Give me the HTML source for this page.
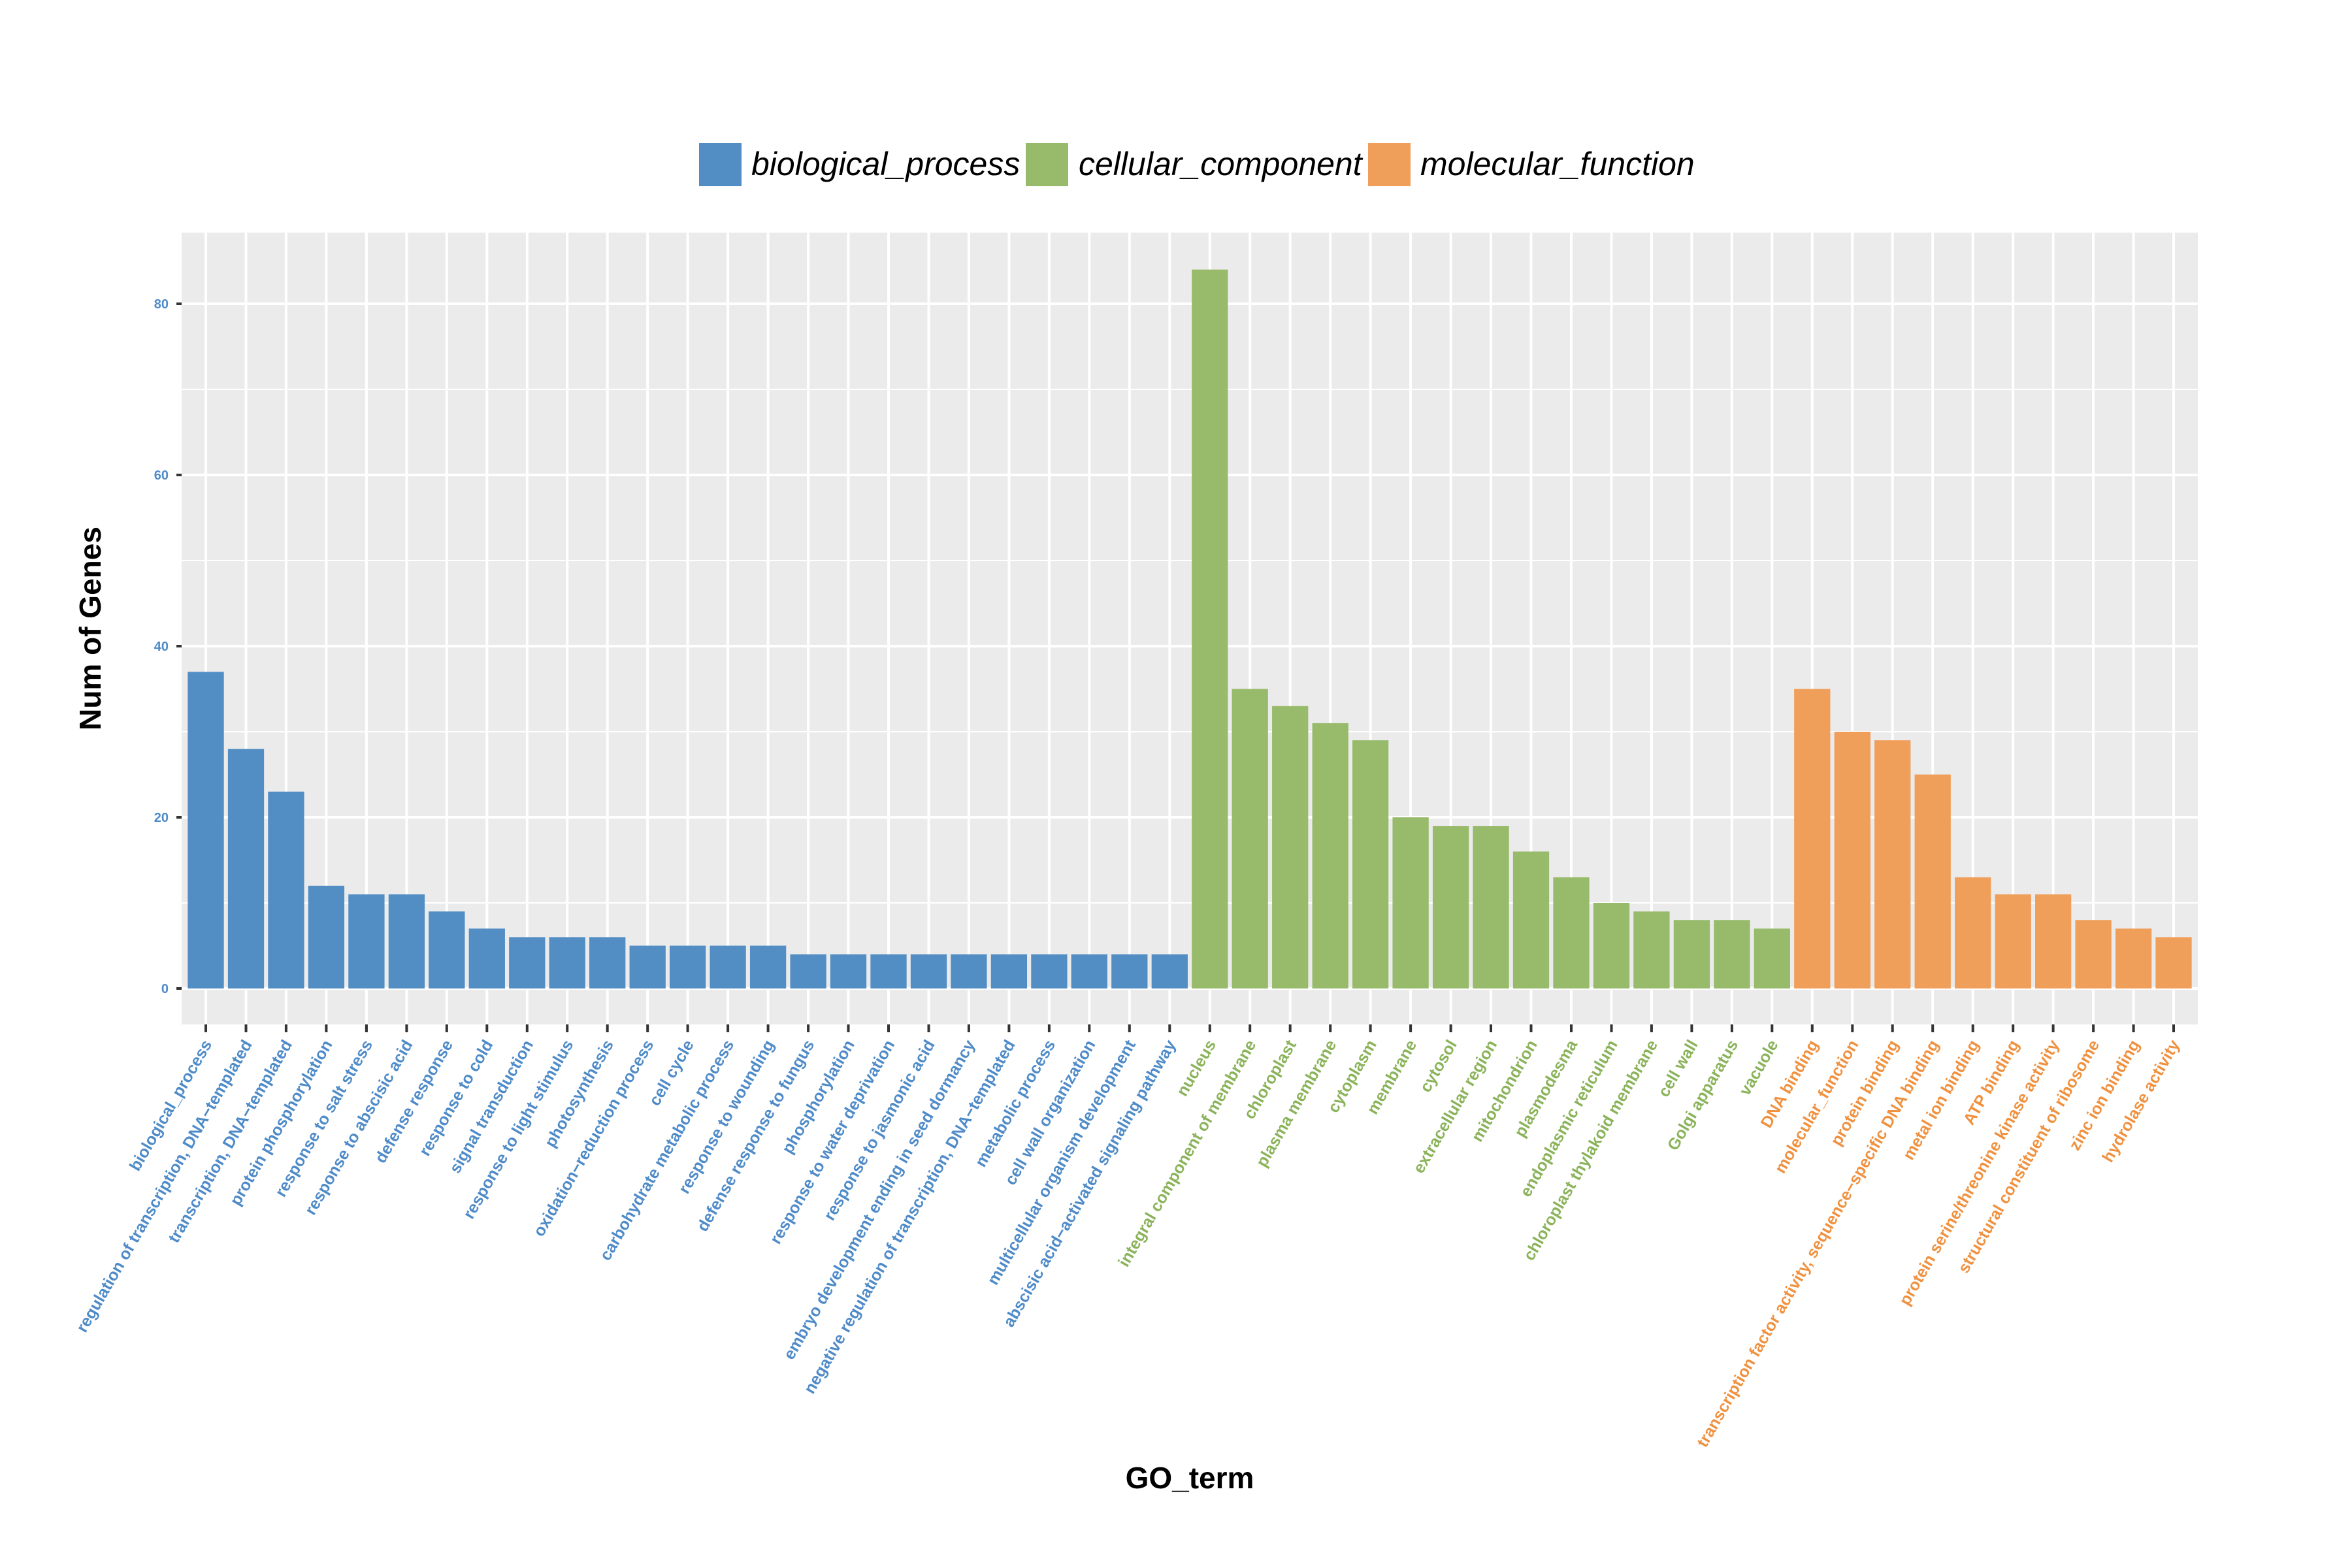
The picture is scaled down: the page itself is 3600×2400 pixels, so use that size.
<!DOCTYPE html>
<html><head><meta charset="utf-8"><style>
html,body{margin:0;padding:0;background:#fff}
svg{display:block}
text{font-family:"Liberation Sans",sans-serif}
.b{fill:#528ec4}.g{fill:#98bb6b}.o{fill:#f09f5b}
.lb text{font-size:25px;font-weight:bold;text-anchor:end}
.tb{fill:#4f8bc8}.tg{fill:#8ab35a}.to{fill:#f0913f}
</style></head><body>
<svg width="3600" height="2400" viewBox="0 0 3600 2400" xmlns="http://www.w3.org/2000/svg">
<rect width="3600" height="2400" fill="#fff"/>
<rect x="1070" y="219" width="65" height="66" fill="#528ec4"/>
<text x="1150" y="268" font-size="50" font-style="italic">biological_process</text>
<rect x="1570" y="219" width="65" height="66" fill="#98bb6b"/>
<text x="1651" y="268" font-size="50" font-style="italic">cellular_component</text>
<rect x="2094" y="219" width="65" height="66" fill="#f09f5b"/>
<text x="2174" y="268" font-size="50" font-style="italic">molecular_function</text>
<rect x="278" y="356" width="3086" height="1212" fill="#ebebeb"/>
<g stroke="#fff" stroke-width="2">
<path d="M278 1382H3364M278 1120H3364M278 858H3364M278 596H3364"/>
</g>
<g stroke="#fff" stroke-width="4">
<path d="M278 1513H3364M278 1251H3364M278 989H3364M278 727H3364M278 465H3364"/>
<path d="M315.0 356V1568M376.5 356V1568M437.9 356V1568M499.4 356V1568M560.9 356V1568M622.4 356V1568M683.8 356V1568M745.3 356V1568M806.8 356V1568M868.2 356V1568M929.7 356V1568M991.2 356V1568M1052.6 356V1568M1114.1 356V1568M1175.6 356V1568M1237.1 356V1568M1298.5 356V1568M1360.0 356V1568M1421.5 356V1568M1482.9 356V1568M1544.4 356V1568M1605.9 356V1568M1667.3 356V1568M1728.8 356V1568M1790.3 356V1568M1851.8 356V1568M1913.2 356V1568M1974.7 356V1568M2036.2 356V1568M2097.6 356V1568M2159.1 356V1568M2220.6 356V1568M2282.0 356V1568M2343.5 356V1568M2405.0 356V1568M2466.5 356V1568M2527.9 356V1568M2589.4 356V1568M2650.9 356V1568M2712.3 356V1568M2773.8 356V1568M2835.3 356V1568M2896.7 356V1568M2958.2 356V1568M3019.7 356V1568M3081.2 356V1568M3142.6 356V1568M3204.1 356V1568M3265.6 356V1568M3327.0 356V1568"/>
</g>
<g stroke="#333" stroke-width="4">
<path d="M270 1513H278M270 1251H278M270 989H278M270 727H278M270 465H278"/>
<path d="M315.0 1568V1580M376.5 1568V1580M437.9 1568V1580M499.4 1568V1580M560.9 1568V1580M622.4 1568V1580M683.8 1568V1580M745.3 1568V1580M806.8 1568V1580M868.2 1568V1580M929.7 1568V1580M991.2 1568V1580M1052.6 1568V1580M1114.1 1568V1580M1175.6 1568V1580M1237.1 1568V1580M1298.5 1568V1580M1360.0 1568V1580M1421.5 1568V1580M1482.9 1568V1580M1544.4 1568V1580M1605.9 1568V1580M1667.3 1568V1580M1728.8 1568V1580M1790.3 1568V1580M1851.8 1568V1580M1913.2 1568V1580M1974.7 1568V1580M2036.2 1568V1580M2097.6 1568V1580M2159.1 1568V1580M2220.6 1568V1580M2282.0 1568V1580M2343.5 1568V1580M2405.0 1568V1580M2466.5 1568V1580M2527.9 1568V1580M2589.4 1568V1580M2650.9 1568V1580M2712.3 1568V1580M2773.8 1568V1580M2835.3 1568V1580M2896.7 1568V1580M2958.2 1568V1580M3019.7 1568V1580M3081.2 1568V1580M3142.6 1568V1580M3204.1 1568V1580M3265.6 1568V1580M3327.0 1568V1580"/>
</g>
<g font-size="20" font-weight="bold" fill="#4f8bc8" text-anchor="end">
<text x="258" y="1520">0</text><text x="258" y="1258">20</text><text x="258" y="996">40</text><text x="258" y="734">60</text><text x="258" y="472">80</text>
</g>
<g transform="translate(0,1513) scale(1,-13.1)">
<g class="b">
<rect x="287.35" y="0" width="55.3" height="37"/>
<rect x="348.85" y="0" width="55.3" height="28"/>
<rect x="410.25" y="0" width="55.3" height="23"/>
<rect x="471.75" y="0" width="55.3" height="12"/>
<rect x="533.25" y="0" width="55.3" height="11"/>
<rect x="594.75" y="0" width="55.3" height="11"/>
<rect x="656.15" y="0" width="55.3" height="9"/>
<rect x="717.65" y="0" width="55.3" height="7"/>
<rect x="779.15" y="0" width="55.3" height="6"/>
<rect x="840.55" y="0" width="55.3" height="6"/>
<rect x="902.05" y="0" width="55.3" height="6"/>
<rect x="963.55" y="0" width="55.3" height="5"/>
<rect x="1024.95" y="0" width="55.3" height="5"/>
<rect x="1086.45" y="0" width="55.3" height="5"/>
<rect x="1147.95" y="0" width="55.3" height="5"/>
<rect x="1209.45" y="0" width="55.3" height="4"/>
<rect x="1270.85" y="0" width="55.3" height="4"/>
<rect x="1332.35" y="0" width="55.3" height="4"/>
<rect x="1393.85" y="0" width="55.3" height="4"/>
<rect x="1455.25" y="0" width="55.3" height="4"/>
<rect x="1516.75" y="0" width="55.3" height="4"/>
<rect x="1578.25" y="0" width="55.3" height="4"/>
<rect x="1639.65" y="0" width="55.3" height="4"/>
<rect x="1701.15" y="0" width="55.3" height="4"/>
<rect x="1762.65" y="0" width="55.3" height="4"/>
</g>
<g class="g">
<rect x="1824.15" y="0" width="55.3" height="84"/>
<rect x="1885.55" y="0" width="55.3" height="35"/>
<rect x="1947.05" y="0" width="55.3" height="33"/>
<rect x="2008.55" y="0" width="55.3" height="31"/>
<rect x="2069.95" y="0" width="55.3" height="29"/>
<rect x="2131.45" y="0" width="55.3" height="20"/>
<rect x="2192.95" y="0" width="55.3" height="19"/>
<rect x="2254.35" y="0" width="55.3" height="19"/>
<rect x="2315.85" y="0" width="55.3" height="16"/>
<rect x="2377.35" y="0" width="55.3" height="13"/>
<rect x="2438.85" y="0" width="55.3" height="10"/>
<rect x="2500.25" y="0" width="55.3" height="9"/>
<rect x="2561.75" y="0" width="55.3" height="8"/>
<rect x="2623.25" y="0" width="55.3" height="8"/>
<rect x="2684.65" y="0" width="55.3" height="7"/>
</g>
<g class="o">
<rect x="2746.15" y="0" width="55.3" height="35"/>
<rect x="2807.65" y="0" width="55.3" height="30"/>
<rect x="2869.05" y="0" width="55.3" height="29"/>
<rect x="2930.55" y="0" width="55.3" height="25"/>
<rect x="2992.05" y="0" width="55.3" height="13"/>
<rect x="3053.55" y="0" width="55.3" height="11"/>
<rect x="3114.95" y="0" width="55.3" height="11"/>
<rect x="3176.45" y="0" width="55.3" height="8"/>
<rect x="3237.95" y="0" width="55.3" height="7"/>
<rect x="3299.35" y="0" width="55.3" height="6"/>
</g>
</g>
<g class="lb">
<g class="tb">
<text transform="translate(325.0,1598) rotate(-60)">biological_process</text>
<text transform="translate(386.5,1598) rotate(-60)">regulation of transcription, DNA−templated</text>
<text transform="translate(447.9,1598) rotate(-60)">transcription, DNA−templated</text>
<text transform="translate(509.4,1598) rotate(-60)">protein phosphorylation</text>
<text transform="translate(570.9,1598) rotate(-60)">response to salt stress</text>
<text transform="translate(632.4,1598) rotate(-60)">response to abscisic acid</text>
<text transform="translate(693.8,1598) rotate(-60)">defense response</text>
<text transform="translate(755.3,1598) rotate(-60)">response to cold</text>
<text transform="translate(816.8,1598) rotate(-60)">signal transduction</text>
<text transform="translate(878.2,1598) rotate(-60)">response to light stimulus</text>
<text transform="translate(939.7,1598) rotate(-60)">photosynthesis</text>
<text transform="translate(1001.2,1598) rotate(-60)">oxidation−reduction process</text>
<text transform="translate(1062.6,1598) rotate(-60)">cell cycle</text>
<text transform="translate(1124.1,1598) rotate(-60)">carbohydrate metabolic process</text>
<text transform="translate(1185.6,1598) rotate(-60)">response to wounding</text>
<text transform="translate(1247.1,1598) rotate(-60)">defense response to fungus</text>
<text transform="translate(1308.5,1598) rotate(-60)">phosphorylation</text>
<text transform="translate(1370.0,1598) rotate(-60)">response to water deprivation</text>
<text transform="translate(1431.5,1598) rotate(-60)">response to jasmonic acid</text>
<text transform="translate(1492.9,1598) rotate(-60)">embryo development ending in seed dormancy</text>
<text transform="translate(1554.4,1598) rotate(-60)">negative regulation of transcription, DNA−templated</text>
<text transform="translate(1615.9,1598) rotate(-60)">metabolic process</text>
<text transform="translate(1677.3,1598) rotate(-60)">cell wall organization</text>
<text transform="translate(1738.8,1598) rotate(-60)">multicellular organism development</text>
<text transform="translate(1800.3,1598) rotate(-60)">abscisic acid−activated signaling pathway</text>
</g>
<g class="tg">
<text transform="translate(1861.8,1598) rotate(-60)">nucleus</text>
<text transform="translate(1923.2,1598) rotate(-60)">integral component of membrane</text>
<text transform="translate(1984.7,1598) rotate(-60)">chloroplast</text>
<text transform="translate(2046.2,1598) rotate(-60)">plasma membrane</text>
<text transform="translate(2107.6,1598) rotate(-60)">cytoplasm</text>
<text transform="translate(2169.1,1598) rotate(-60)">membrane</text>
<text transform="translate(2230.6,1598) rotate(-60)">cytosol</text>
<text transform="translate(2292.0,1598) rotate(-60)">extracellular region</text>
<text transform="translate(2353.5,1598) rotate(-60)">mitochondrion</text>
<text transform="translate(2415.0,1598) rotate(-60)">plasmodesma</text>
<text transform="translate(2476.5,1598) rotate(-60)">endoplasmic reticulum</text>
<text transform="translate(2537.9,1598) rotate(-60)">chloroplast thylakoid membrane</text>
<text transform="translate(2599.4,1598) rotate(-60)">cell wall</text>
<text transform="translate(2660.9,1598) rotate(-60)">Golgi apparatus</text>
<text transform="translate(2722.3,1598) rotate(-60)">vacuole</text>
</g>
<g class="to">
<text transform="translate(2783.8,1598) rotate(-60)">DNA binding</text>
<text transform="translate(2845.3,1598) rotate(-60)">molecular_function</text>
<text transform="translate(2906.7,1598) rotate(-60)">protein binding</text>
<text transform="translate(2968.2,1598) rotate(-60)">transcription factor activity, sequence−specific DNA binding</text>
<text transform="translate(3029.7,1598) rotate(-60)">metal ion binding</text>
<text transform="translate(3091.2,1598) rotate(-60)">ATP binding</text>
<text transform="translate(3152.6,1598) rotate(-60)">protein serine/threonine kinase activity</text>
<text transform="translate(3214.1,1598) rotate(-60)">structural constituent of ribosome</text>
<text transform="translate(3275.6,1598) rotate(-60)">zinc ion binding</text>
<text transform="translate(3337.0,1598) rotate(-60)">hydrolase activity</text>
</g>
</g>
<text x="1821" y="2278" font-size="46" font-weight="bold" text-anchor="middle">GO_term</text>
<text transform="translate(154,962) rotate(-90)" font-size="46" font-weight="bold" text-anchor="middle">Num of Genes</text>
</svg>
</body></html>
